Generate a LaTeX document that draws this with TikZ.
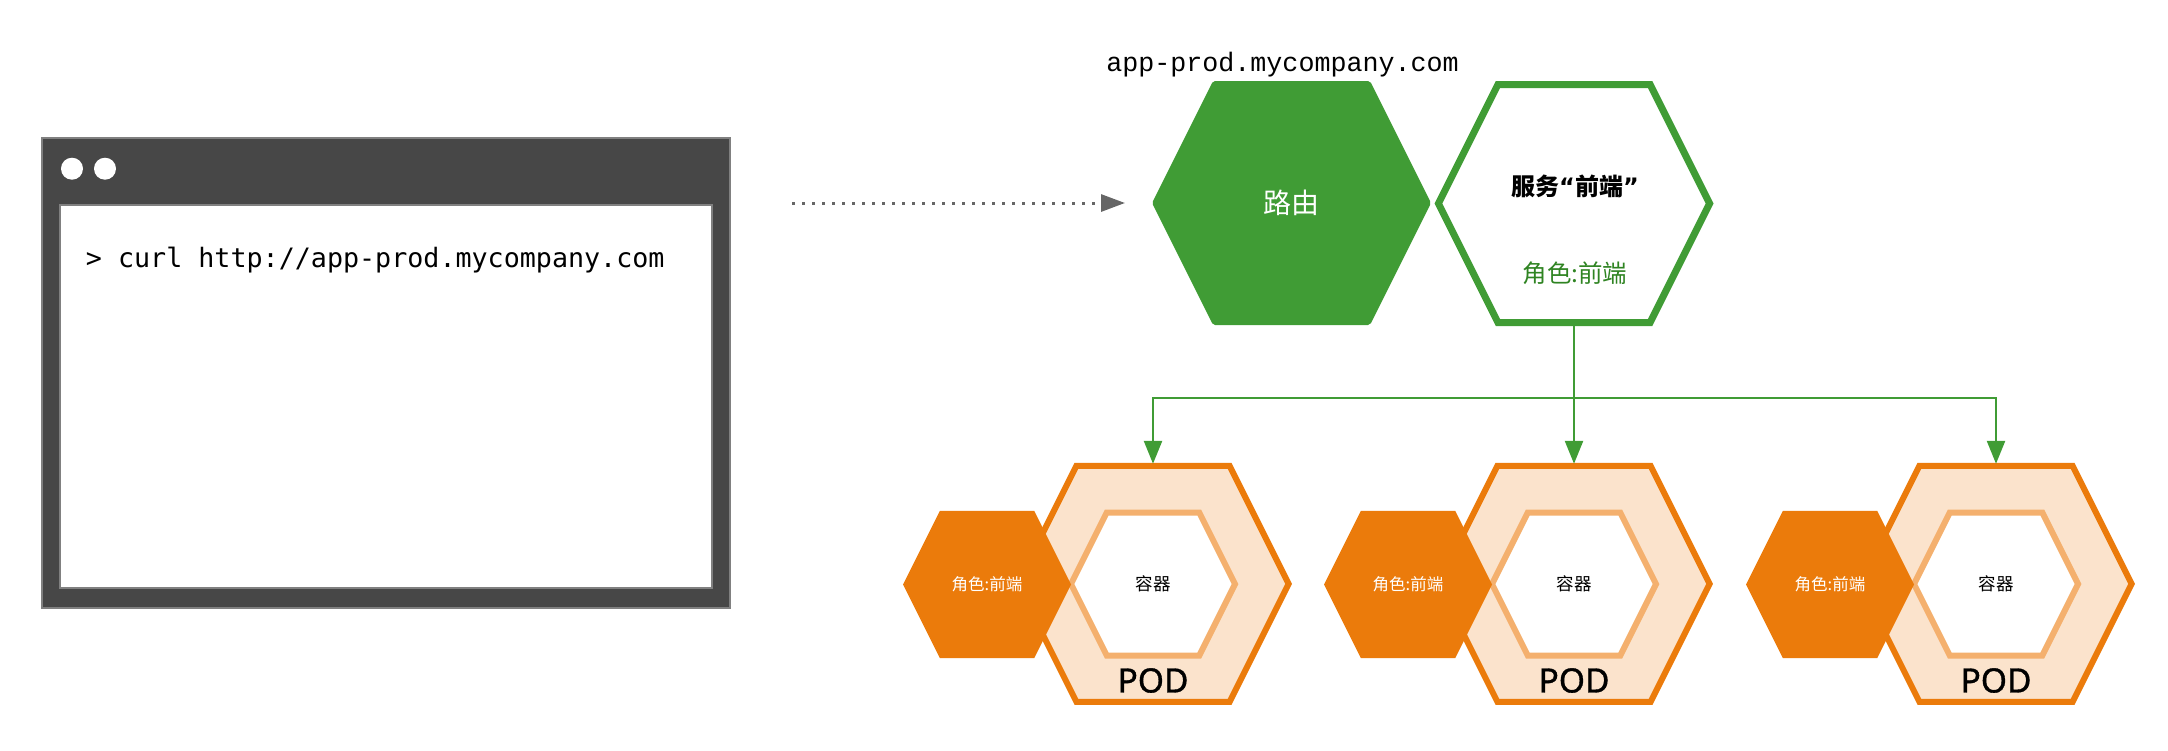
\documentclass[tikz,border=0pt]{standalone}
\usepackage{fontspec}
\newfontfamily\cjk{Noto Sans CJK SC}
\newfontfamily\codefont{DejaVu Sans Mono}
\newfontfamily\hostfont{Liberation Mono}
\newfontfamily\podfont[FakeBold=1]{Noto Sans}
\newfontfamily\quotefont{DejaVu Sans}
\usetikzlibrary{arrows.meta}
\definecolor{routegreen}{HTML}{409C35}
\definecolor{roletext}{HTML}{2F8422}
\definecolor{podorange}{HTML}{EB7B0B}
\definecolor{podfill}{HTML}{FBE3CC}
\definecolor{boxline}{HTML}{F4B06E}
\definecolor{winbody}{HTML}{474747}
\definecolor{winedge}{HTML}{808080}
\definecolor{arrowgray}{HTML}{666666}
% #1 path style, #2 node style, #3 name, #4 centre, #5 half width, #6 half height, #7 text
\newcommand{\hexnode}[7]{%
  \path[#1] (#4) ++(-#5,0) -- ++({#6/2},-#6) -- ++({2*#5-#6},0) -- ++({#6/2},#6)
    -- ++({-#6/2},#6) -- ++({#6-2*#5},0) -- cycle;
  \node[inner sep=0pt,outer sep=0pt,minimum width={2*#5},minimum height={2*#6},#2]
    (#3) at (#4) {#7};}

\begin{document}
\begin{tikzpicture}[x=1pt,y=-1pt,
  routerhex/.style={fill=routegreen,rounded corners=2pt},
  svchex/.style={draw=routegreen,fill=white,line width=7pt},
  podhex/.style={draw=podorange,fill=podfill,line width=6pt},
  boxhex/.style={draw=boxline,fill=white,line width=6pt},
  rolehex/.style={fill=podorange},
  feed/.style={routegreen,line width=2.5pt,-{Triangle[length=23pt,width=18pt]}},
  webcall/.style={arrowgray,line width=3pt,dash pattern=on 3pt off 7pt,
    -{Triangle[length=24pt,width=17pt]}}]
\useasboundingbox (0,0) rectangle (2168,750);

\node[draw=winedge,fill=winbody,line width=2pt,minimum width=688.5pt,minimum height=470pt,
  inner sep=0pt] (browser) at (385.75,373.35) {};
\node[draw=winedge,fill=white,line width=2pt,minimum width=652.5pt,minimum height=383pt,
  inner sep=0pt] (screen) at (385.75,396.1) {};
\foreach \dx in {72,105}
	\fill[white] (\dx,168.7) circle (11pt);
\node[anchor=west,inner sep=0pt,font=\codefont\fontsize{26.7}{30}\selectfont] (cmd)
  at (85.7,260) {> curl http://app-prod.mycompany.com};

\node[inner sep=0pt,font=\hostfont\fontsize{26.7}{30}\selectfont] (host)
  at (1282.5,65) {app-prod.mycompany.com};
\hexnode{routerhex}{text=white,font=\cjk\fontsize{28}{32}\selectfont}{router}{1291.5,203}{139.5}{122}{路由}
\hexnode{svchex}{}{svc}{1574,203.5}{135.6}{119}{}
\node[font=\cjk\bfseries\fontsize{24}{28}\selectfont] (svcname)
  at (1575,186.7) {服务{\quotefont\bfseries“}前端{\quotefont\bfseries”}};
\node[text=roletext,font=\cjk\fontsize{24.5}{28}\selectfont] (svcrole)
  at (1575,273) {角色:前端};

\draw[webcall,shorten <=61pt,shorten >=27pt] (browser.east |- router.west) -- (router.west);

\foreach \x [count=\i] in {1153,1574,1996} {
	\hexnode{podhex}{}{pod\i}{\x,583.8}{135.6}{118}{}
	\hexnode{boxhex}{font=\cjk\fontsize{17.5}{20}\selectfont}{box\i}{\x,584}{82}{71.5}{容器}
	\node[font=\podfont\fontsize{33.5}{36}\selectfont] (podname\i)
	  at ([yshift=-96.7pt]pod\i.center) {POD};
	\hexnode{rolehex}{text=white,font=\cjk\fontsize{16.5}{19}\selectfont}{role\i}{\x-166,584.5}{84}{73.7}{角色:前端}
}

\coordinate (fork) at (1574,398);
\draw[routegreen,line width=2.5pt] (svc.south) -- (fork);
\draw[feed,shorten >=2pt] (fork) -| (pod1.north);
\draw[feed,shorten >=2pt] (fork) -- (pod2.north);
\draw[feed,shorten >=2pt] (fork) -| (pod3.north);
\end{tikzpicture}
\end{document}
